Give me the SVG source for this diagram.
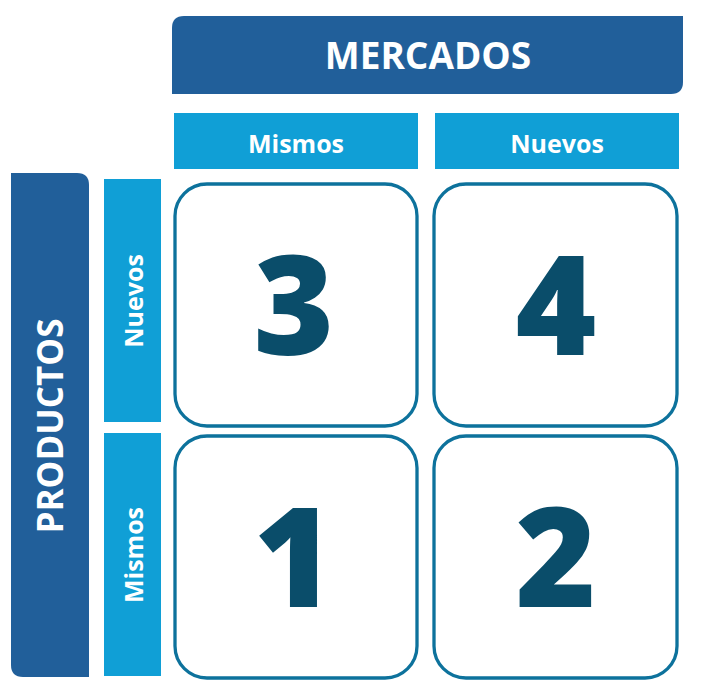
<svg xmlns="http://www.w3.org/2000/svg" width="702" height="696" viewBox="0 0 702 696">
<style>
.dark{fill:#215f9a}
.light{fill:#109fd6}
.cell{fill:#ffffff;stroke:#0d729c;stroke-width:3.3}
.big{font-family:"Open Sans","Liberation Sans",sans-serif;font-weight:700;fill:#ffffff;text-anchor:middle}
.sub{font-family:"Open Sans","Liberation Sans",sans-serif;font-weight:700;fill:#ffffff;text-anchor:middle;font-size:25px}
.num{font-family:"Open Sans","Liberation Sans",sans-serif;font-weight:800;fill:#0a4d6a;text-anchor:middle;font-size:138px}
</style>
<rect width="702" height="696" fill="#ffffff"/>
<g id="mercados">
<path class="dark" d="M172,94 V28 Q172,16 184,16 H683 V82 Q683,94 671,94 Z"/>
<text class="big" x="428" y="69" font-size="37">MERCADOS</text>
</g>
<g id="productos">
<path class="dark" d="M11,173 H77 Q89,173 89,185 V677 H23 Q11,677 11,665 Z"/>
<text class="big" font-size="35" transform="translate(63,426) rotate(-90)">PRODUCTOS</text>
</g>
<g id="col-mismos">
<rect class="light" x="174" y="113" width="244" height="56"/>
<text class="sub" x="296" y="153">Mismos</text>
</g>
<g id="col-nuevos">
<rect class="light" x="435" y="113" width="244" height="56"/>
<text class="sub" x="557" y="153">Nuevos</text>
</g>
<g id="row-nuevos">
<rect class="light" x="104" y="179" width="57" height="243"/>
<text class="sub" transform="translate(143,301) rotate(-90)">Nuevos</text>
</g>
<g id="row-mismos">
<rect class="light" x="104" y="433" width="57" height="243"/>
<text class="sub" transform="translate(143,555) rotate(-90)">Mismos</text>
</g>
<g id="cell-3">
<rect class="cell" x="175" y="184" width="242" height="242" rx="32"/>
<text class="num" x="294" y="355">3</text>
</g>
<g id="cell-4">
<rect class="cell" x="434" y="184" width="243" height="242" rx="32"/>
<text class="num" x="556" y="355">4</text>
</g>
<g id="cell-1">
<rect class="cell" x="175" y="436" width="242" height="242" rx="32"/>
<text class="num" x="294" y="607">1</text>
</g>
<g id="cell-2">
<rect class="cell" x="434" y="436" width="243" height="242" rx="32"/>
<text class="num" x="556" y="607">2</text>
</g>
<g id="connectors"></g>
</svg>
